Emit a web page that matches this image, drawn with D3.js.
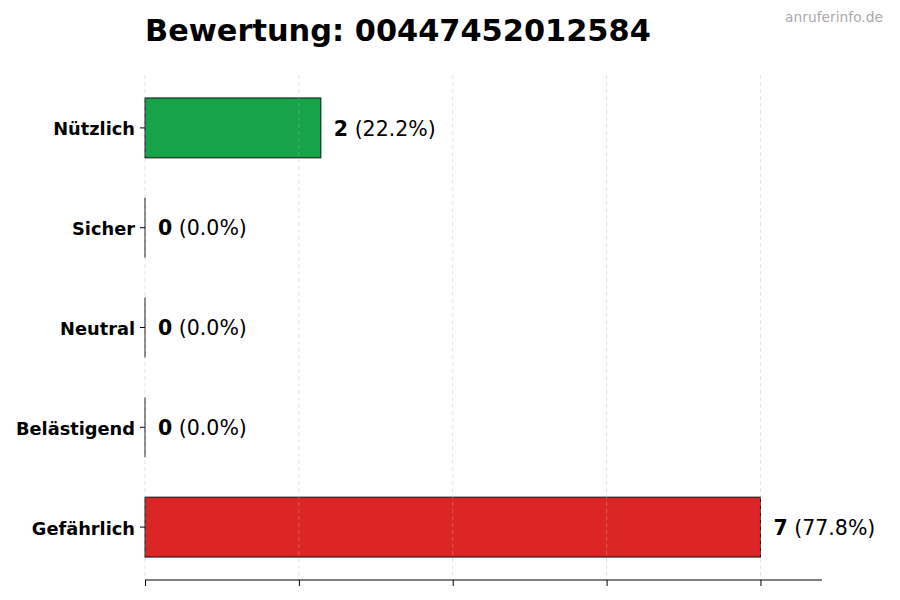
<!DOCTYPE html>
<html>
<head>
<meta charset="utf-8">
<script src="https://cdn.jsdelivr.net/npm/d3@7"></script>
<style>
  body { margin: 0; background: #fff; }
  svg { font-family: "DejaVu Sans", sans-serif; }
</style>
</head>
<body>
<div id="chart"></div>
<script>
var categories = ["Nützlich", "Sicher", "Neutral", "Belästigend", "Gefährlich"];
var counts = [2, 0, 0, 0, 7];
var barColors = ["#16a34a", "#16a34a", "#9ca3af", "#f97316", "#dc2626"];
var xTicks = [0, 1.75, 3.5, 5.25, 7];
var title = "Bewertung: 00447452012584";
var watermark = "anruferinfo.de";

var width = 900, height = 600;
var margin = { top: 75, right: 78, bottom: 20, left: 145 };
var total = d3.sum(counts);

var svg = d3.select("#chart").append("svg")
    .attr("width", width)
    .attr("height", height);

var x = d3.scaleLinear()
    .domain([0, d3.max(counts) * 1.1])
    .range([margin.left, width - margin.right]);

// matplotlib-like band: bars at 0..n-1, height 0.6, 5% margins
var n = categories.length;
var yLin = d3.scaleLinear()
    .domain([-0.3 - 0.23, n - 1 + 0.3 + 0.23])
    .range([margin.top, height - margin.bottom]);
var barH = yLin(0.6) - yLin(0);

var bar = svg.append("g")
    .selectAll(".bar")
    .data(categories)
    .enter()
    .append("g")
        .attr("class", "bar");

bar.append("rect")
    .attr("x", x(0))
    .attr("y", (d, i) => yLin(i) - barH / 2)
    .attr("width", (d, i) => x(counts[i]) - x(0))
    .attr("height", barH)
    .attr("fill", (d, i) => barColors[i])
    .attr("stroke", "#111")
    .attr("stroke-width", 1);

// zero-width bars still show their edge
bar.filter((d, i) => counts[i] === 0)
    .append("line")
        .attr("x1", x(0))
        .attr("x2", x(0))
        .attr("y1", d => yLin(categories.indexOf(d)) - barH / 2)
        .attr("y2", d => yLin(categories.indexOf(d)) + barH / 2)
        .attr("stroke", "#111")
        .attr("stroke-width", 1);

// grid, drawn over the bars
svg.append("g")
    .selectAll("line")
    .data(xTicks)
    .enter()
    .append("line")
        .attr("x1", d => x(d))
        .attr("x2", d => x(d))
        .attr("y1", margin.top)
        .attr("y2", height - margin.bottom)
        .attr("stroke", "#bbb")
        .attr("stroke-opacity", 0.5)
        .attr("stroke-width", 0.8)
        .attr("stroke-dasharray", "4,3");

var label = bar.append("text")
    .attr("x", (d, i) => x(counts[i]) + 13)
    .attr("y", (d, i) => yLin(i))
    .attr("dy", "0.38em")
    .style("font-size", "20.5px")
    .style("fill", "#000");
label.append("tspan")
    .style("font-weight", "bold")
    .text((d, i) => counts[i]);
label.append("tspan")
    .text((d, i) => " (" + (counts[i] / total * 100).toFixed(1) + "%)");

// y axis labels and ticks
var yAxis = svg.append("g");
yAxis.selectAll("line")
    .data(categories)
    .enter()
    .append("line")
        .attr("x1", margin.left - 5)
        .attr("x2", margin.left)
        .attr("y1", (d, i) => yLin(i))
        .attr("y2", (d, i) => yLin(i))
        .attr("stroke", "#000")
        .attr("stroke-width", 1);
yAxis.selectAll("text")
    .data(categories)
    .enter()
    .append("text")
        .attr("x", margin.left - 10)
        .attr("y", (d, i) => yLin(i))
        .attr("dy", "0.42em")
        .attr("text-anchor", "end")
        .style("font-size", "17.8px")
        .style("font-weight", "bold")
        .text(d => d);

// x axis (no labels)
svg.append("g")
    .attr("transform", "translate(0," + (height - margin.bottom) + ")")
    .call(d3.axisBottom(x).tickValues(xTicks).tickSize(6).tickFormat(""))
    .call(g => g.select(".domain").attr("d", "M" + x(0) + ",0H" + x.range()[1]).attr("stroke", "#000"))
    .call(g => g.selectAll("line").attr("stroke", "#000").attr("stroke-width", 1));

svg.append("text")
    .attr("x", margin.left)
    .attr("y", 41)
    .style("font-size", "30.4px")
    .style("font-weight", "bold")
    .text(title);

svg.append("text")
    .attr("x", 883)
    .attr("y", 22)
    .attr("text-anchor", "end")
    .style("font-size", "13.8px")
    .style("fill", "#aaa")
    .text(watermark);
</script>
</body>
</html>
